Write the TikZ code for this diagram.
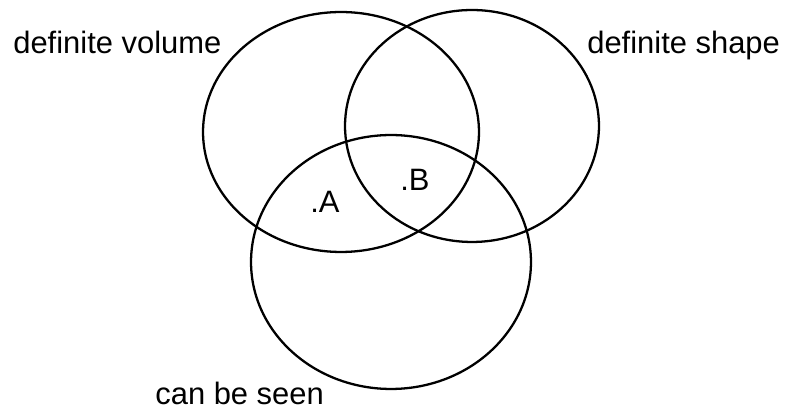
\documentclass[tikz,border=0pt]{standalone}
\usepackage{fontspec}
\setmainfont{Liberation Sans}
\usepackage{tikz}
\usetikzlibrary{shapes.geometric,positioning}

\begin{document}
\begin{tikzpicture}[
  x=0.02cm,y=-0.02cm,
  setring/.style={draw,ellipse,line width=1.3pt,inner sep=0pt},
  lbl/.style={anchor=base west,inner sep=0pt,font=\fontsize{17.6}{21}\selectfont}
]
\useasboundingbox (0,0) rectangle (792,411);
% the three sets
\node[setring,minimum width=5.52cm,minimum height=4.80cm] (volume) at (341,132) {};
\node[setring,minimum width=5.08cm,minimum height=4.64cm] (shape) at (472,126) {};
\node[setring,minimum width=5.60cm,minimum height=5.08cm] (seen) at (391,262) {};
% set names
\node[lbl] (volname) at (13,54) {definite volume};
\node[lbl] (shapename) at (587,54) {definite shape};
\node[lbl] (seenname) at (155,405) {can be seen};
% points
\node[lbl] (ptA) at (310,213) {.A};
\node[lbl] (ptB) at (400,191) {.B};
\end{tikzpicture}
\end{document}
